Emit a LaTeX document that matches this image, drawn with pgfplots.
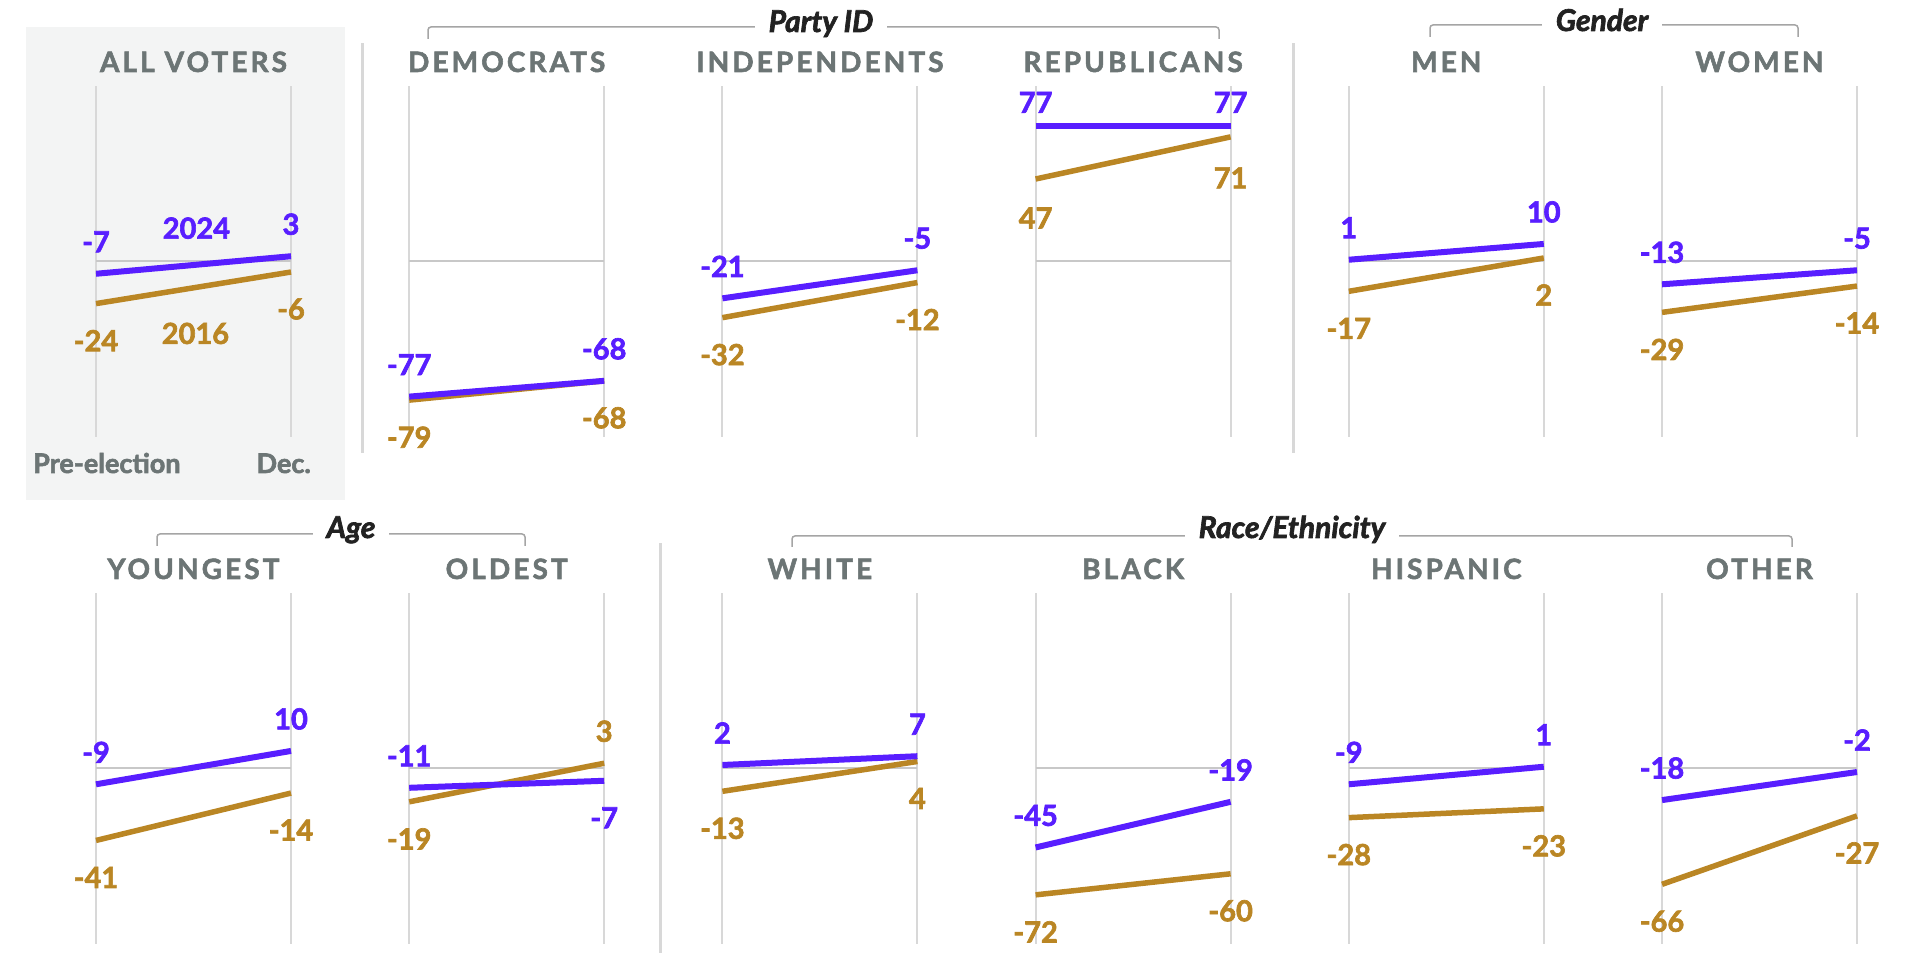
\documentclass[border=0pt]{standalone}
\usepackage{pgfplots}
\pgfplotsset{compat=1.18}
\usepackage{fontspec}
\setmainfont{Lato}[BoldFeatures={FakeBold=2.2},BoldItalicFeatures={FakeBold=2.2}]
\newfontfamily\ttlfont{Lato}[LetterSpace=11,BoldFeatures={FakeBold=2}]
\definecolor{b24}{RGB}{88,30,255}
\definecolor{g16}{RGB}{186,134,36}
\definecolor{ttl}{RGB}{108,117,117}
\definecolor{gridc}{RGB}{216,216,216}
\definecolor{zeroc}{RGB}{200,200,200}
\definecolor{boxc}{RGB}{243,244,244}
\definecolor{brk}{RGB}{165,165,165}
\definecolor{hdr}{RGB}{34,34,34}
\pgfplotsset{
  panel/.style={anchor=south west, width=195pt, height=351pt, scale only axis,
    xmin=0, xmax=1, ymin=-100, ymax=100, hide axis, clip=false},
  l24/.style={b24, line width=6pt, mark=none},
  l16/.style={g16, line width=5.5pt, mark=none},
}
\tikzset{
  lb/.style={font=\fontsize{29}{30}\selectfont\bfseries, inner sep=0pt, anchor=center},
  ab/.style={lb, yshift=32pt},
  be/.style={lb, yshift=-37pt},
  ttlst/.style={font=\ttlfont\bfseries\fontsize{28}{30}\selectfont, text=ttl, anchor=base, inner sep=0pt},
  hdrst/.style={font=\bfseries\itshape\fontsize{30}{32}\selectfont, text=hdr, anchor=base, fill=white, inner xsep=14pt, inner ysep=2pt},
}
\newcommand\fr{%
  \draw[gridc, line width=2pt] (axis cs:0,-100) -- (axis cs:0,100);
  \draw[gridc, line width=2pt] (axis cs:1,-100) -- (axis cs:1,100);
  \draw[zeroc, line width=2pt] (axis cs:0,0) -- (axis cs:1,0);}
\begin{document}
\begin{tikzpicture}[x=1pt,y=1pt]
\fill[white] (0,0) rectangle (1920,960);
% gray box for all voters
\fill[boxc] (26,460) rectangle (345,933);
% separators
\draw[gridc, line width=3pt] (362,507) -- (362,917);
\draw[gridc, line width=3pt] (1293,507) -- (1293,917);
\draw[gridc, line width=3pt] (660,7) -- (660,417);
% brackets
\draw[brk, line width=1.5pt, rounded corners=3pt] (428,921) -- (428,933) -- (1219,933) -- (1219,921);
\node[hdrst] at (821,928) {Party ID};
\draw[brk, line width=1.5pt, rounded corners=3pt] (1430,923) -- (1430,935) -- (1798,935) -- (1798,923);
\node[hdrst] at (1602,929) {Gender};
\draw[brk, line width=1.5pt, rounded corners=3pt] (157,414) -- (157,426) -- (525,426) -- (525,414);
\node[hdrst] at (351,422) {Age};
\draw[brk, line width=1.5pt, rounded corners=3pt] (792,413) -- (792,424) -- (1792,424) -- (1792,413);
\node[hdrst] at (1292,422) {Race/Ethnicity};
% titles
\node[ttlst] at (193.5,888) {ALL VOTERS};
\node[ttlst] at (506.7,888) {DEMOCRATS};
\node[ttlst] at (819.9,888) {INDEPENDENTS};
\node[ttlst] at (1133.1,888) {REPUBLICANS};
\node[ttlst] at (1446.3,888) {MEN};
\node[ttlst] at (1759.5,888) {WOMEN};
\node[ttlst] at (193.5,381) {YOUNGEST};
\node[ttlst] at (506.7,381) {OLDEST};
\node[ttlst] at (819.9,381) {WHITE};
\node[ttlst] at (1133.1,381) {BLACK};
\node[ttlst] at (1446.3,381) {HISPANIC};
\node[ttlst] at (1759.5,381) {OTHER};
% axis labels in all voters
\node[font=\bfseries\fontsize{27}{29}\selectfont, text=ttl, anchor=base west, inner sep=0pt] at (33,487) {Pre-election};
\node[font=\bfseries\fontsize{27}{29}\selectfont, text=ttl, anchor=base east, inner sep=0pt] at (311,487) {Dec.};
% ---------- Row 1 ----------
\begin{axis}[panel, at={(96pt,523pt)}]
\fr
\addplot[l16] coordinates {(0,-24) (1,-6)} node[pos=0,be,text=g16]{-24} node[pos=1,be,text=g16]{-6};
\addplot[l24] coordinates {(0,-7) (1,3)} node[pos=0,ab,text=b24]{-7} node[pos=1,ab,text=b24]{3};
\node[lb,text=b24] at (axis cs:0.515,19) {2024};
\node[lb,text=g16] at (axis cs:0.51,-41) {2016};
\end{axis}
\begin{axis}[panel, at={(409.2pt,523pt)}]
\fr
\addplot[l16] coordinates {(0,-79) (1,-68)} node[pos=0,be,text=g16]{-79} node[pos=1,be,text=g16]{-68};
\addplot[l24] coordinates {(0,-77) (1,-68)} node[pos=0,ab,text=b24]{-77} node[pos=1,ab,text=b24]{-68};
\end{axis}
\begin{axis}[panel, at={(722.4pt,523pt)}]
\fr
\addplot[l16] coordinates {(0,-32) (1,-12)} node[pos=0,be,text=g16]{-32} node[pos=1,be,text=g16]{-12};
\addplot[l24] coordinates {(0,-21) (1,-5)} node[pos=0,ab,text=b24]{-21} node[pos=1,ab,text=b24]{-5};
\end{axis}
\begin{axis}[panel, at={(1035.6pt,523pt)}]
\fr
\addplot[l16] coordinates {(0,47) (1,71)} node[pos=0,be,yshift=-2pt,text=g16]{47} node[pos=1,be,yshift=-4pt,text=g16]{71};
\addplot[l24] coordinates {(0,77) (1,77)} node[pos=0,lb,yshift=24pt,text=b24]{77} node[pos=1,lb,yshift=24pt,text=b24]{77};
\end{axis}
\begin{axis}[panel, at={(1348.8pt,523pt)}]
\fr
\addplot[l16] coordinates {(0,-17) (1,2)} node[pos=0,be,text=g16]{-17} node[pos=1,be,text=g16]{2};
\addplot[l24] coordinates {(0,1) (1,10)} node[pos=0,ab,text=b24]{1} node[pos=1,ab,text=b24]{10};
\end{axis}
\begin{axis}[panel, at={(1662pt,523pt)}]
\fr
\addplot[l16] coordinates {(0,-29) (1,-14)} node[pos=0,be,text=g16]{-29} node[pos=1,be,text=g16]{-14};
\addplot[l24] coordinates {(0,-13) (1,-5)} node[pos=0,ab,text=b24]{-13} node[pos=1,ab,text=b24]{-5};
\end{axis}
% ---------- Row 2 ----------
\begin{axis}[panel, at={(96pt,16pt)}]
\fr
\addplot[l16] coordinates {(0,-41) (1,-14)} node[pos=0,be,text=g16]{-41} node[pos=1,be,text=g16]{-14};
\addplot[l24] coordinates {(0,-9) (1,10)} node[pos=0,ab,text=b24]{-9} node[pos=1,ab,text=b24]{10};
\end{axis}
\begin{axis}[panel, at={(409.2pt,16pt)}]
\fr
\addplot[l16] coordinates {(0,-19) (1,3)} node[pos=0,be,text=g16]{-19} node[pos=1,ab,text=g16]{3};
\addplot[l24] coordinates {(0,-11) (1,-7)} node[pos=0,ab,text=b24]{-11} node[pos=1,be,text=b24]{-7};
\end{axis}
\begin{axis}[panel, at={(722.4pt,16pt)}]
\fr
\addplot[l16] coordinates {(0,-13) (1,4)} node[pos=0,be,text=g16]{-13} node[pos=1,be,text=g16]{4};
\addplot[l24] coordinates {(0,2) (1,7)} node[pos=0,ab,text=b24]{2} node[pos=1,ab,text=b24]{7};
\end{axis}
\begin{axis}[panel, at={(1035.6pt,16pt)}]
\fr
\addplot[l16] coordinates {(0,-72) (1,-60)} node[pos=0,be,text=g16]{-72} node[pos=1,be,text=g16]{-60};
\addplot[l24] coordinates {(0,-45) (1,-19)} node[pos=0,ab,text=b24]{-45} node[pos=1,ab,text=b24]{-19};
\end{axis}
\begin{axis}[panel, at={(1348.8pt,16pt)}]
\fr
\addplot[l16] coordinates {(0,-28) (1,-23)} node[pos=0,be,text=g16]{-28} node[pos=1,be,text=g16]{-23};
\addplot[l24] coordinates {(0,-9) (1,1)} node[pos=0,ab,text=b24]{-9} node[pos=1,ab,text=b24]{1};
\end{axis}
\begin{axis}[panel, at={(1662pt,16pt)}]
\fr
\addplot[l16] coordinates {(0,-66) (1,-27)} node[pos=0,be,text=g16]{-66} node[pos=1,be,text=g16]{-27};
\addplot[l24] coordinates {(0,-18) (1,-2)} node[pos=0,ab,text=b24]{-18} node[pos=1,ab,text=b24]{-2};
\end{axis}
\pgfresetboundingbox
\path (0,0) rectangle (1920,960);
\end{tikzpicture}
\end{document}
